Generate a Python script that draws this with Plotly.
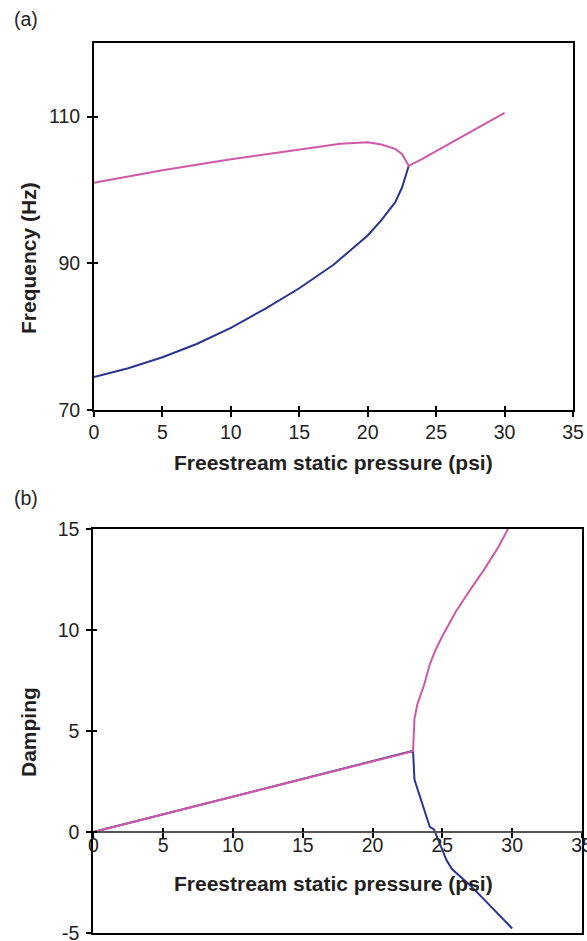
import plotly.graph_objects as go

# ---------------- data ----------------
# (a) Frequency vs pressure
freq_low_x = [0, 2.5, 5, 7.5, 10, 12.5, 15, 17.5, 20, 21, 22, 22.5, 23]
freq_low_y = [74.5, 75.7, 77.2, 79.0, 81.2, 83.8, 86.6, 89.8, 93.8, 95.9, 98.3, 100.3, 103.3]
freq_up_x = [0, 5, 10, 15, 18, 20, 21, 22, 22.5, 23, 23.5, 24, 25, 26, 27, 28, 29, 30]
freq_up_y = [101.0, 102.7, 104.2, 105.5, 106.3, 106.5, 106.2, 105.6, 104.9, 103.3,
             103.75, 104.25, 105.3, 106.35, 107.4, 108.4, 109.45, 110.5]

# (b) Damping vs pressure
damp_blue_x = [0, 5, 10, 15, 20, 22, 22.9, 23.0, 23.4, 24.1, 24.4, 24.9, 25.3, 25.7,
               26.25, 27, 28, 29, 30]
damp_blue_y = [0, 0.88, 1.76, 2.64, 3.52, 3.86, 4.02, 2.6, 1.7, 0.25, 0.13, -0.74, -1.4,
               -1.85, -2.2, -2.65, -3.35, -4.05, -4.78]
damp_pink_x = [0, 5, 10, 15, 20, 22.9, 23.0, 23.2, 23.4, 23.7, 24.1, 24.5, 25.0, 25.5,
               26.0, 27.0, 28.0, 29.0, 29.7]
damp_pink_y = [0, 0.87, 1.75, 2.62, 3.5, 4.0, 5.6, 6.3, 6.7, 7.3, 8.3, 9.0, 9.7, 10.3,
               10.95, 12.0, 13.0, 14.1, 15.0]

x_ticks = [0, 5, 10, 15, 20, 25, 30, 35]
freq_ticks = [70, 90, 110]
damp_ticks = [-5, 0, 5, 10, 15]
damp_tick_text = ["-5", "0", "5", "10", "15"]

PINK = "#cf58a8"
BLUE = "#2a3592"
FONT = "Liberation Sans, Arial, sans-serif"
TXT = "#231f20"
W, H = 587, 941

fig = go.Figure()
fig.add_trace(go.Scatter(x=freq_low_x, y=freq_low_y, mode="lines",
                         line=dict(color=BLUE, width=2), xaxis="x", yaxis="y"))
fig.add_trace(go.Scatter(x=freq_up_x, y=freq_up_y, mode="lines",
                         line=dict(color=PINK, width=2), xaxis="x", yaxis="y"))
fig.add_trace(go.Scatter(x=damp_blue_x, y=damp_blue_y, mode="lines",
                         line=dict(color=BLUE, width=2), xaxis="x2", yaxis="y2"))
fig.add_trace(go.Scatter(x=damp_pink_x, y=damp_pink_y, mode="lines",
                         line=dict(color=PINK, width=2), xaxis="x2", yaxis="y2"))
# empty traces so the overlay axes (crossing tick marks, zero axis) get drawn
for xa, ya in [("x3", "y3"), ("x4", "y4"), ("x5", "y4")]:
    fig.add_trace(go.Scatter(x=[], y=[], mode="lines", xaxis=xa, yaxis=ya,
                             hoverinfo="skip"))

tickfont = dict(family=FONT, size=19.5, color=TXT)
base = dict(showgrid=False, zeroline=False, tickfont=tickfont, automargin=False,
            ticklabeloverflow="allow")

def px_x(p):
    return p / W

def px_y(p):
    return 1 - p / H

top_xdom = [px_x(94), px_x(573)]
top_ydom = [px_y(410), px_y(43.3)]
bot_xdom = [px_x(93.3), px_x(582)]
bot_ydom = [px_y(933), px_y(529)]
zero_pos = px_y(831.7)

fig.update_layout(
    width=W, height=H, margin=dict(l=0, r=0, t=0, b=0, autoexpand=False),
    paper_bgcolor="white", plot_bgcolor="white", showlegend=False,
    xaxis=dict(base, domain=top_xdom, anchor="y", range=[0, 35], tickvals=x_ticks,
               showline=True, linecolor="black", linewidth=2, mirror=True,
               ticks="outside", ticklen=5, tickwidth=2, tickcolor="black",
               ticklabelstandoff=-1),
    yaxis=dict(base, domain=top_ydom, anchor="x", range=[70, 120], tickvals=freq_ticks,
               showline=True, linecolor="black", linewidth=2, mirror=True,
               ticks="outside", ticklen=5, tickwidth=2, tickcolor="black",
               ticklabelstandoff=3),
    xaxis3=dict(base, overlaying="x", anchor="y", range=[0, 35], tickvals=x_ticks,
                showline=False, ticks="inside", ticklen=4, tickwidth=2,
                tickcolor="black", showticklabels=False),
    yaxis3=dict(base, overlaying="y", anchor="x", range=[70, 120], tickvals=freq_ticks,
                showline=False, ticks="inside", ticklen=4, tickwidth=2,
                tickcolor="black", showticklabels=False),
    xaxis2=dict(base, domain=bot_xdom, anchor="y2", range=[0, 35],
                showline=True, linecolor="black", linewidth=2, mirror=True,
                ticks="", showticklabels=False),
    yaxis2=dict(base, domain=bot_ydom, anchor="x2", range=[-5, 15], tickvals=damp_ticks,
                ticktext=damp_tick_text,
                showline=True, linecolor="black", linewidth=2, mirror=True,
                ticks="outside", ticklen=5, tickwidth=2, tickcolor="black",
                ticklabelstandoff=3),
    yaxis4=dict(base, overlaying="y2", anchor="x2", range=[-5, 15], tickvals=damp_ticks,
                showline=False, ticks="inside", ticklen=4, tickwidth=2,
                tickcolor="black", showticklabels=False),
    xaxis4=dict(base, overlaying="x2", anchor="free", position=zero_pos, range=[0, 35],
                tickvals=x_ticks, showline=True, linecolor="#555555", linewidth=2,
                ticks="outside", ticklen=5, tickwidth=2, tickcolor="black",
                ticklabelstandoff=-9),
    xaxis5=dict(base, overlaying="x2", anchor="free", position=zero_pos, range=[0, 35],
                tickvals=x_ticks, showline=False, ticks="inside", ticklen=4,
                tickwidth=2, tickcolor="black", showticklabels=False),
)

title_font = dict(family=FONT, size=21, color=TXT, weight="bold")
ann = [
    dict(text="(a)", x=px_x(12), y=px_y(19), xanchor="left", yanchor="middle",
         font=dict(family=FONT, size=19.5, color=TXT)),
    dict(text="(b)", x=px_x(12), y=px_y(498), xanchor="left", yanchor="middle",
         font=dict(family=FONT, size=19.5, color=TXT)),
    dict(text="<b>Freestream static pressure (psi)</b>", x=px_x(333), y=px_y(462),
         xanchor="center", yanchor="middle", font=title_font),
    dict(text="<b>Freestream static pressure (psi)</b>", x=px_x(333), y=px_y(883),
         xanchor="center", yanchor="middle", font=title_font),
    dict(text="<b>Frequency (Hz)</b>", x=px_x(28), y=px_y(258), textangle=-90,
         xanchor="center", yanchor="middle", font=title_font),
    dict(text="<b>Damping</b>", x=px_x(28), y=px_y(732), textangle=-90,
         xanchor="center", yanchor="middle", font=title_font),
]
for a in ann:
    a.update(xref="paper", yref="paper", showarrow=False)
fig.update_layout(annotations=ann)

fig.write_html("out.html")
